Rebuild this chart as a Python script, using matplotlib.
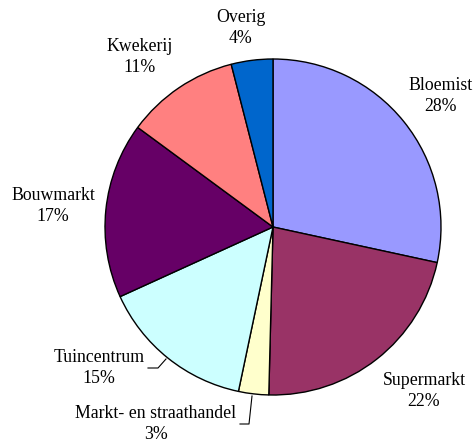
import matplotlib
matplotlib.use('Agg')
import matplotlib.pyplot as plt

plt.rcParams['font.family'] = ['Liberation Serif', 'DejaVu Serif']

# data, clockwise from 12 o'clock (shares)
categories = ['Bloemist', 'Supermarkt', 'Markt- en straathandel', 'Tuincentrum',
              'Bouwmarkt', 'Kwekerij', 'Overig']
shares = [28.4, 22.0, 2.9, 14.9, 16.9, 10.9, 4.0]
colors = ['#9999FF', '#993366', '#FFFFCC', '#CCFFFF', '#660066', '#FF8080', '#0066CC']

W, H = 477, 444
fig = plt.figure(figsize=(W / 100, H / 100), dpi=100)
ax = fig.add_axes([0, 0, 1, 1])

cx, cy, r = 273, H - 227, 168
ax.pie(shares, colors=colors, startangle=90, counterclock=False,
       center=(cx, cy), radius=r, frame=True,
       wedgeprops=dict(edgecolor='black', linewidth=1.0))
ax.set_xlim(0, W)
ax.set_ylim(0, H)
ax.set_aspect('equal')
ax.axis('off')

# label anchor positions (pixel coords from top)
label_pos = [(441, 96), (424, 391), (156, 424), (99, 368), (53, 206), (140, 57), (241, 28)]
for name, val, (x, y) in zip(categories, shares, label_pos):
    ax.text(x, H - y, f'{name}\n{round(val):.0f}%', ha='center', va='center',
            fontsize=12.8, linespacing=1.35)

# leader lines
ax.plot([148, 158, 166], [H - 368, H - 368, H - 359], color='black', lw=0.8)
ax.plot([252, 249, 240], [H - 396, H - 424, H - 424], color='black', lw=0.8)

fig.savefig('out.png', dpi=100)
